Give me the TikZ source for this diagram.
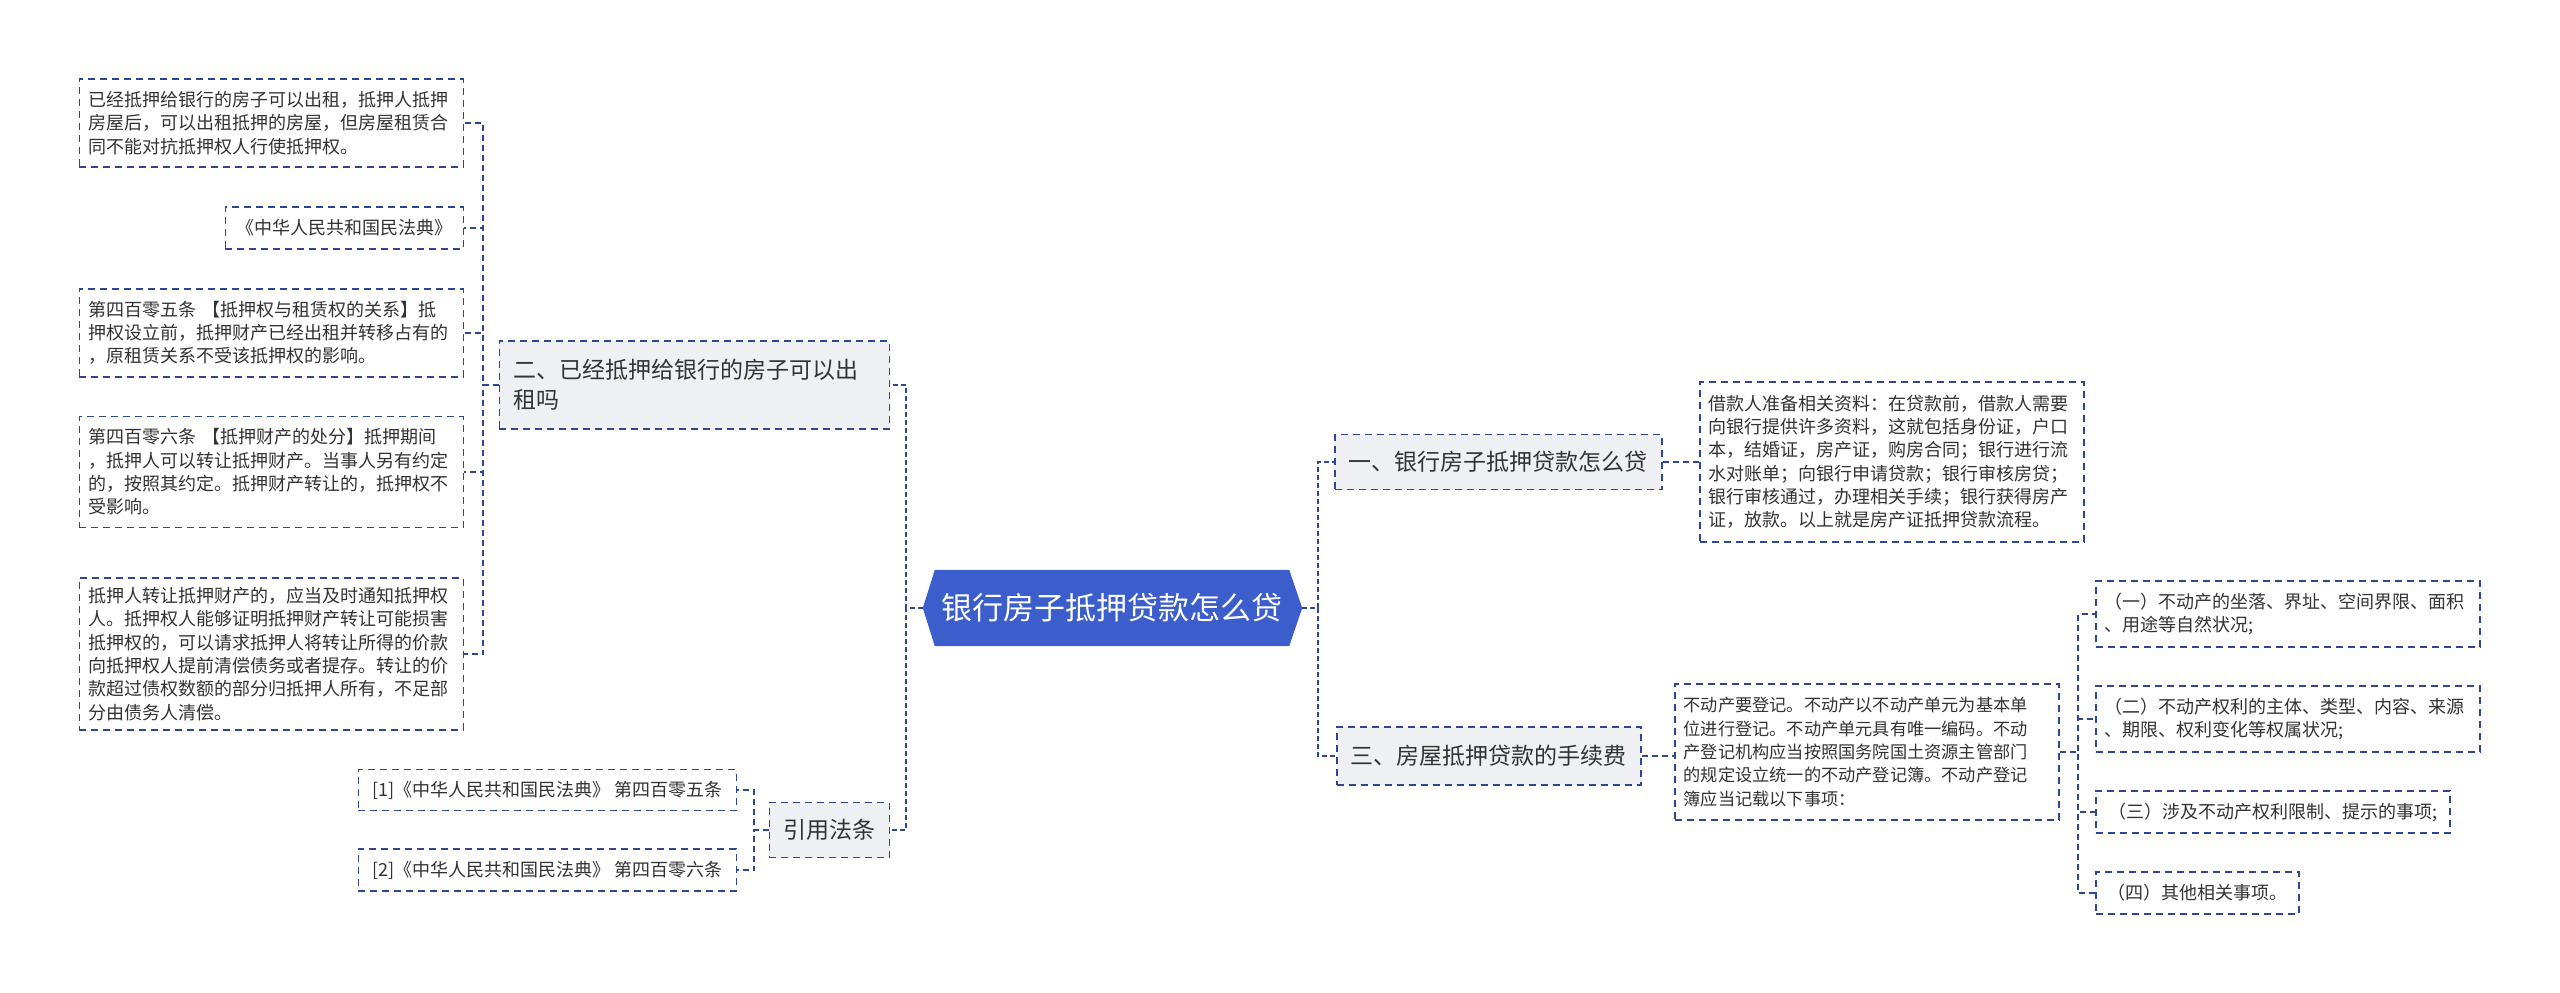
\documentclass[tikz,border=0pt]{standalone}
\usepackage{fontspec}
\setmainfont{Noto Sans CJK SC}
\usepackage{xcolor}
\usetikzlibrary{positioning,backgrounds,calc}
\definecolor{LineBlue}{RGB}{46,70,150}
\definecolor{RootBlue}{RGB}{59,94,204}
\definecolor{TopicFill}{RGB}{238,240,244}
\definecolor{TextGray}{RGB}{51,51,51}

\begin{document}
\begin{tikzpicture}[x=1pt,y=-1pt,
    leaf/.style={draw=LineBlue,line width=1.5pt,dash pattern=on 7pt off 5pt,
                 font=\fontsize{18}{23.3}\selectfont,text=TextGray,align=left,
                 inner xsep=9pt,inner ysep=4pt},
    wideleaf/.style={leaf,text width=366pt},
    topic/.style={draw=LineBlue,fill=TopicFill,line width=1.5pt,dash pattern=on 7pt off 5pt,
                  font=\fontsize{23}{30}\selectfont,text=TextGray,align=left,
                  inner xsep=14pt,inner ysep=4pt,minimum height=56pt},
    rootnode/.style={font=\fontsize{31}{36}\selectfont,text=white,
                     minimum width=354pt,minimum height=76pt,inner sep=0pt},
    link/.style={draw=LineBlue,line width=1.5pt,dash pattern=on 6pt off 4pt},
    tlink/.style={draw=LineBlue,line width=2.5pt,dash pattern=on 5pt off 3pt}]

    \useasboundingbox (0,0) rectangle (2560,993);

    \node[rootnode] (root) at (1112,608) {银行房子抵押贷款怎么贷};
    \coordinate (rootL) at ([xshift=-12pt]root.west);
    \coordinate (rootR) at ([xshift=13pt]root.east);
    \begin{scope}[on background layer]
      \fill[white] (0,0) rectangle (2560,993);
      \fill[RootBlue] (rootL) -- (root.north west) -- (root.north east)
        -- (rootR) -- (root.south east) -- (root.south west) -- cycle;
    \end{scope}

    \node[topic,anchor=east,text width=362pt,minimum height=88pt] (T2) at (890,385)
          {二、已经抵押给银行的房子可以出\\租吗};
    \node[topic,anchor=east,minimum height=55pt] (cite) at (890,830) {引用法条};
    \node[topic,anchor=west,minimum height=55pt] (T1) at (1334,462) {一、银行房子抵押贷款怎么贷};
    \node[topic,anchor=west,minimum height=58pt] (T3) at (1336,756) {三、房屋抵押贷款的手续费};

    \node[wideleaf,anchor=east,minimum height=88pt] (A1) at (464,123)
          {已经抵押给银行的房子可以出租，抵押人抵押\\房屋后，可以出租抵押的房屋，但房屋租赁合\\同不能对抗抵押权人行使抵押权。};
    \node[leaf,anchor=east,minimum height=42pt,minimum width=238pt] (A2) at (464,228) {《中华人民共和国民法典》};
    \node[wideleaf,anchor=east,minimum height=88pt] (A3) at (464,333)
          {第四百零五条 【抵押权与租赁权的关系】抵\\押权设立前，抵押财产已经出租并转移占有的\\，原租赁关系不受该抵押权的影响。};
    \node[wideleaf,anchor=east,minimum height=111pt] (A4) at (464,472)
          {第四百零六条 【抵押财产的处分】抵押期间\\，抵押人可以转让抵押财产。当事人另有约定\\的，按照其约定。抵押财产转让的，抵押权不\\受影响。};
    \node[wideleaf,anchor=east,minimum height=152pt] (A5) at (464,654)
          {抵押人转让抵押财产的，应当及时通知抵押权\\人。抵押权人能够证明抵押财产转让可能损害\\抵押权的，可以请求抵押人将转让所得的价款\\向抵押权人提前清偿债务或者提存。转让的价\\款超过债权数额的部分归抵押人所有，不足部\\分由债务人清偿。};

    \node[leaf,anchor=east,minimum height=41pt,minimum width=378pt] (C1) at (737,790) {[1]《中华人民共和国民法典》 第四百零五条};
    \node[leaf,anchor=east,minimum height=42pt,minimum width=378pt] (C2) at (737,870) {[2]《中华人民共和国民法典》 第四百零六条};

    \node[wideleaf,anchor=west,minimum height=160pt] (R1) at (1699,462)
          {借款人准备相关资料：在贷款前，借款人需要\\向银行提供许多资料，这就包括身份证，户口\\本，结婚证，房产证，购房合同；银行进行流\\水对账单；向银行申请贷款；银行审核房贷；\\银行审核通过，办理相关手续；银行获得房产\\证，放款。以上就是房产证抵押贷款流程。};
    \node[wideleaf,anchor=west,minimum height=136pt,font=\fontsize{17.2}{23.3}\selectfont] (R3) at (1674,752)
          {不动产要登记。不动产以不动产单元为基本单\\位进行登记。不动产单元具有唯一编码。不动\\产登记机构应当按照国务院国土资源主管部门\\的规定设立统一的不动产登记簿。不动产登记\\簿应当记载以下事项：};

    \node[wideleaf,anchor=west,minimum height=66pt] (S1) at (2095,614)
          {（一）不动产的坐落、界址、空间界限、面积\\、用途等自然状况;};
    \node[wideleaf,anchor=west,minimum height=66pt] (S2) at (2095,719)
          {（二）不动产权利的主体、类型、内容、来源\\、期限、权利变化等权属状况;};
    \node[leaf,anchor=west,minimum height=42pt,minimum width=354pt] (S3) at (2095,812) {（三）涉及不动产权利限制、提示的事项;};
    \node[leaf,anchor=west,minimum height=42pt,minimum width=203pt] (S4) at (2095,893) {（四）其他相关事项。};

    \coordinate (jL) at (906,608);
    \coordinate (jR) at (1318,608);
    \coordinate (j2) at (483,385);
    \coordinate (jc) at (754,830);
    \coordinate (j3) at (2078,752);

    \foreach \to in {T2,cite} \draw[tlink] (rootL) -- (jL) |- (\to.east);
    \foreach \to in {T1,T3} \draw[tlink] (rootR) -- (jR) |- (\to.west);

    \foreach \to in {A1,A2,A3,A4,A5} \draw[link] (T2.west) -- (j2) |- (\to.east);
    \foreach \to in {C1,C2} \draw[link] (cite.west) -- (jc) |- (\to.east);
    \foreach \to in {S1,S2,S3,S4} \draw[link] (R3.east) -- (j3) |- (\to.west);

    \draw[link] (T1.east) -- (R1.west);
    \draw[link] (T3.east) -- (T3.east -| R3.west);
  \end{tikzpicture}
\end{document}
